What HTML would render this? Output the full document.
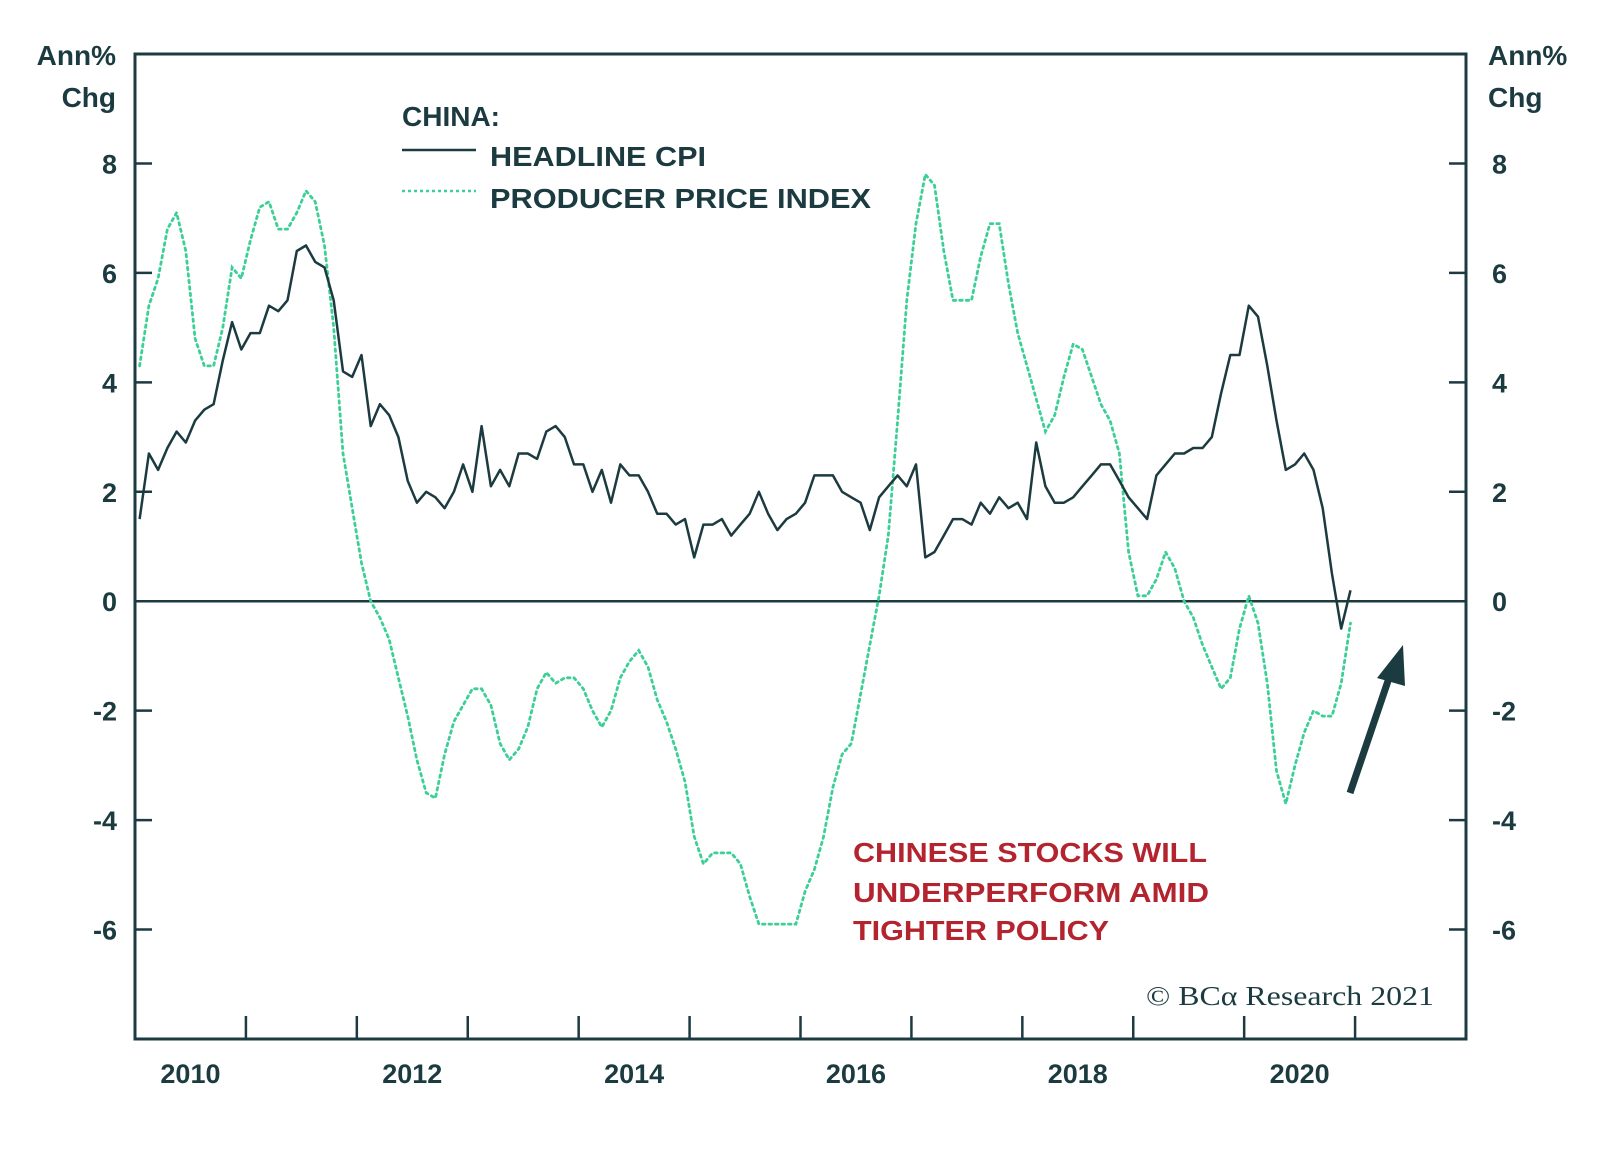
<!DOCTYPE html>
<html><head><meta charset="utf-8"><style>
html,body{margin:0;padding:0;background:#fff;}
svg{display:block;font-family:"Liberation Sans",sans-serif;}
</style></head><body>
<svg id="chart" width="1600" height="1154" viewBox="0 0 1600 1154">
<g id="axes"></g>
<g id="series"></g>
<g id="labels" fill="#1b3b40" font-weight="bold">
  <text x="116" y="65" font-size="28" text-anchor="end">Ann%</text>
  <text x="116" y="107" font-size="28" text-anchor="end">Chg</text>
  <text x="1488" y="65" font-size="28">Ann%</text>
  <text x="1488" y="107" font-size="28">Chg</text>
  <text x="402" y="126" font-size="28">CHINA:</text>
  <line x1="402" y1="150" x2="476" y2="150" stroke="#1b3b40" stroke-width="2.5"/>
  <text x="490" y="166" font-size="28" textLength="216" lengthAdjust="spacingAndGlyphs">HEADLINE CPI</text>
  <line x1="402" y1="191" x2="476" y2="191" stroke="#3ecf97" stroke-width="2.5" stroke-dasharray="3 3"/>
  <text x="490" y="208" font-size="28" textLength="381" lengthAdjust="spacingAndGlyphs">PRODUCER PRICE INDEX</text>
  <g fill="#b3242f" font-size="28">
    <text x="853" y="862" textLength="354" lengthAdjust="spacingAndGlyphs">CHINESE STOCKS WILL</text>
    <text x="853" y="902" textLength="356" lengthAdjust="spacingAndGlyphs">UNDERPERFORM AMID</text>
    <text x="853" y="940" textLength="256" lengthAdjust="spacingAndGlyphs">TIGHTER POLICY</text>
  </g>
  <text x="1146" y="1005" font-size="27" font-weight="normal" font-family="Liberation Serif, serif" textLength="288" lengthAdjust="spacingAndGlyphs">© BCα Research 2021</text>
  <g>
    <line x1="1350" y1="793" x2="1390" y2="675" stroke="#1b3b40" stroke-width="7"/>
    <polygon points="1403,645 1377,678 1405,686" fill="#1b3b40"/>
  </g>
</g>
</svg>
<script>
const yTicks = [8, 6, 4, 2, 0, -2, -4, -6];
const yearLabels = ["2010","2012","2014","2016","2018","2020"];
const cpi = [
1.5,2.7,2.4,2.8,3.1,2.9,3.3,3.5,3.6,4.4,5.1,4.6,
4.9,4.9,5.4,5.3,5.5,6.4,6.5,6.2,6.1,5.5,4.2,4.1,
4.5,3.2,3.6,3.4,3.0,2.2,1.8,2.0,1.9,1.7,2.0,2.5,
2.0,3.2,2.1,2.4,2.1,2.7,2.7,2.6,3.1,3.2,3.0,2.5,
2.5,2.0,2.4,1.8,2.5,2.3,2.3,2.0,1.6,1.6,1.4,1.5,
0.8,1.4,1.4,1.5,1.2,1.4,1.6,2.0,1.6,1.3,1.5,1.6,
1.8,2.3,2.3,2.3,2.0,1.9,1.8,1.3,1.9,2.1,2.3,2.1,
2.5,0.8,0.9,1.2,1.5,1.5,1.4,1.8,1.6,1.9,1.7,1.8,
1.5,2.9,2.1,1.8,1.8,1.9,2.1,2.3,2.5,2.5,2.2,1.9,
1.7,1.5,2.3,2.5,2.7,2.7,2.8,2.8,3.0,3.8,4.5,4.5,
5.4,5.2,4.3,3.3,2.4,2.5,2.7,2.4,1.7,0.5,-0.5,0.2];
const ppi = [
4.3,5.4,5.9,6.8,7.1,6.4,4.8,4.3,4.3,5.0,6.1,5.9,
6.6,7.2,7.3,6.8,6.8,7.1,7.5,7.3,6.5,5.0,2.7,1.7,
0.7,0.0,-0.3,-0.7,-1.4,-2.1,-2.9,-3.5,-3.6,-2.8,-2.2,-1.9,
-1.6,-1.6,-1.9,-2.6,-2.9,-2.7,-2.3,-1.6,-1.3,-1.5,-1.4,-1.4,
-1.6,-2.0,-2.3,-2.0,-1.4,-1.1,-0.9,-1.2,-1.8,-2.2,-2.7,-3.3,
-4.3,-4.8,-4.6,-4.6,-4.6,-4.8,-5.4,-5.9,-5.9,-5.9,-5.9,-5.9,
-5.3,-4.9,-4.3,-3.4,-2.8,-2.6,-1.7,-0.8,0.1,1.2,3.3,5.5,
6.9,7.8,7.6,6.4,5.5,5.5,5.5,6.3,6.9,6.9,5.8,4.9,
4.3,3.7,3.1,3.4,4.1,4.7,4.6,4.1,3.6,3.3,2.7,0.9,
0.1,0.1,0.4,0.9,0.6,0.0,-0.3,-0.8,-1.2,-1.6,-1.4,-0.5,
0.1,-0.4,-1.5,-3.1,-3.7,-3.0,-2.4,-2.0,-2.1,-2.1,-1.5,-0.4];
const startYear = 2010, endYear = 2022, yMin = -8, yMax = 10;

const L=135, R=1466, T=54, B=1039;
const xOf = t => L + (t - startYear) / (endYear - startYear) * (R - L);
const yOf = v => B - (v - yMin) / (yMax - yMin) * (B - T);
const NS = "http://www.w3.org/2000/svg";
const C = "#1b3b40";
function mk(tag, attrs, parent){ const e=document.createElementNS(NS,tag); for(const k in attrs) e.setAttribute(k,attrs[k]); parent.appendChild(e); return e; }
const axes = document.getElementById('axes'), series = document.getElementById('series');

let frame = mk('rect',{x:L,y:T,width:R-L,height:B-T,fill:'none',stroke:C,'stroke-width':3},axes);


let zero = mk('line',{x1:L,x2:R,y1:yOf(0),y2:yOf(0),stroke:C,'stroke-width':2.5},axes);



yTicks.forEach(v=>{
  const y=yOf(v);
  let t1=mk('line',{x1:L,x2:L+17,y1:y,y2:y,stroke:C,'stroke-width':2.5},axes);
  
  
  let t2=mk('line',{x1:R-17,x2:R,y1:y,y2:y,stroke:C,'stroke-width':2.5},axes);
  
  
  let a=mk('text',{x:117,y:y+10,'text-anchor':'end','font-size':27,'font-weight':'bold',fill:C},axes);
  a.textContent=String(v);
  
  
  let b=mk('text',{x:1492,y:y+10,'font-size':27,'font-weight':'bold',fill:C},axes);
  b.textContent=String(v);
  
  
});
for(let yr=startYear+1; yr<endYear; yr++){
  const x=xOf(yr);
  let t=mk('line',{x1:x,x2:x,y1:B-23,y2:B,stroke:C,'stroke-width':2.5},axes);
  
  
}
yearLabels.forEach(s=>{
  const yr=+s;
  let t=mk('text',{x:xOf(yr+0.5),y:1083,'text-anchor':'middle','font-size':27,'font-weight':'bold',fill:C},axes);
  t.textContent=s;
  
  
});
const pts = arr => arr.map((v,i)=>xOf(startYear+(i+0.5)/12).toFixed(1)+','+yOf(v).toFixed(1)).join(' ');
let pl=mk('polyline',{points:pts(ppi),fill:'none',stroke:'#3ecf97','stroke-width':2.8,'stroke-dasharray':'2.5 4','stroke-linecap':'round'},series);


let cl=mk('polyline',{points:pts(cpi),fill:'none',stroke:C,'stroke-width':2.5,'stroke-linejoin':'round'},series);


</script>
</body></html>
